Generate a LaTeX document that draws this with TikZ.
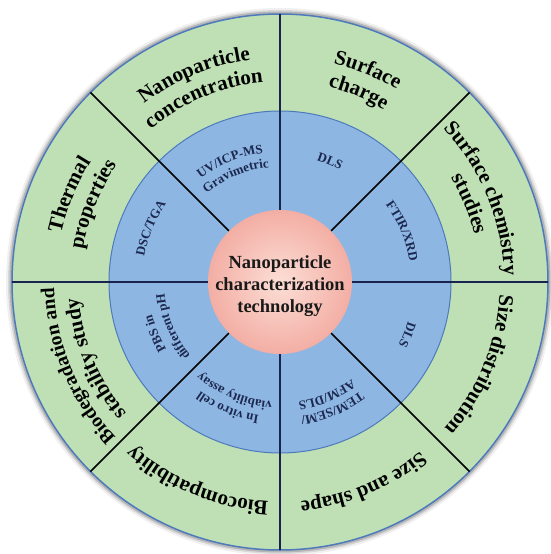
\documentclass[tikz,border=0pt]{standalone}
\usepackage{tikz}
\usetikzlibrary{decorations.text}
\usepackage{xcolor}
\usepackage{fontspec}
\setmainfont{Liberation Serif}

\definecolor{ringgreen}{RGB}{190,224,180}
\definecolor{ringblue}{RGB}{141,182,226}
\definecolor{rimblue}{RGB}{78,122,188}
\definecolor{navyline}{RGB}{25,35,80}
\definecolor{navytext}{RGB}{28,40,80}
\definecolor{pinkin}{RGB}{252,222,214}
\definecolor{pinkout}{RGB}{243,174,164}

\begin{document}
\begin{tikzpicture}[x=1pt, y=1pt,
        greenlabel/.style={decorate, decoration={text along path, text align=center,
            text={|\fontsize{21}{24}\selectfont\bfseries|#1}}},
        smallgreen/.style={decorate, decoration={text along path, text align=center,
            text={|\fontsize{19.5}{22}\selectfont\bfseries|#1}}},
        bluelabel/.style={decorate, decoration={text along path, text align=center,
            text={|\fontsize{13}{15}\selectfont\bfseries\color{navytext}|#1}}}]
                \useasboundingbox (-280,-272) rectangle (270,282);

                % shadow and rings
                \foreach \r/\o in {274/0.06, 272/0.1, 270.5/0.16} \fill[black, opacity=\o] (0,0) circle (\r);
                \filldraw[fill=ringgreen, draw=rimblue, line width=1.5pt] (0,0) circle (268);
                \filldraw[fill=ringblue, draw=rimblue, line width=1pt] (0,0) circle (171);

                % spokes
                \foreach \a in {0,90,180,270} \draw[navyline, line width=1.5pt] (\a:72) -- (\a:268);
                \foreach \a in {45,135,225,315} \draw[black, line width=1.5pt] (\a:72) -- (\a:268);

                % hub
                \shade[inner color=pinkin, outer color=pinkout] (0,0) circle (72);
                \node[align=center, text=black!90, font=\fontsize{18.5}{22}\selectfont\bfseries] (hub) at (0,-4) {Nanoparticle\\characterization\\technology};

                % outer ring
                \path[greenlabel={Nanoparticle}] (152.5:224) arc[start angle=152.5, end angle=72.5, radius=224];
                \path[greenlabel={concentration}] (152.5:200) arc[start angle=152.5, end angle=72.5, radius=200];
                \path[greenlabel={Surface}] (107.5:225) arc[start angle=107.5, end angle=27.5, radius=225];
                \path[greenlabel={charge}] (107.5:201) arc[start angle=107.5, end angle=27.5, radius=201];
                \path[greenlabel={Surface chemistry}] (62.5:224) arc[start angle=62.5, end angle=-17.5, radius=224];
                \path[greenlabel={studies}] (62.5:200) arc[start angle=62.5, end angle=-17.5, radius=200];
                \path[greenlabel={Size distribution}] (17.5:220) arc[start angle=17.5, end angle=-62.5, radius=220];
                \path[greenlabel={Size and shape}] (-27.5:220) arc[start angle=-27.5, end angle=-107.5, radius=220];
                \path[greenlabel={Biocompatibility}] (-72.5:220) arc[start angle=-72.5, end angle=-152.5, radius=220];
                \path[smallgreen={Biodegradation and}] (-117.5:226) arc[start angle=-117.5, end angle=-197.5, radius=226];
                \path[greenlabel={stability study}] (-117.5:202) arc[start angle=-117.5, end angle=-197.5, radius=202];
                \path[greenlabel={Thermal}] (197.5:224) arc[start angle=197.5, end angle=117.5, radius=224];
                \path[greenlabel={properties}] (197.5:200) arc[start angle=197.5, end angle=117.5, radius=200];

                % inner ring
                \path[bluelabel={UV/ICP-MS}] (152.5:130) arc[start angle=152.5, end angle=72.5, radius=130];
                \path[bluelabel={Gravimetric}] (152.5:115) arc[start angle=152.5, end angle=72.5, radius=115];
                \path[bluelabel={DLS}] (107.5:127) arc[start angle=107.5, end angle=27.5, radius=127];
                \path[bluelabel={FTIR/XRD}] (62.5:131) arc[start angle=62.5, end angle=-17.5, radius=131];
                \path[bluelabel={DLS}] (17.5:134) arc[start angle=17.5, end angle=-62.5, radius=134];
                \path[bluelabel={TEM/SEM/}] (-27.5:136) arc[start angle=-27.5, end angle=-107.5, radius=136];
                \path[bluelabel={AFM/DLS}] (-27.5:121) arc[start angle=-27.5, end angle=-107.5, radius=121];
                \path[bluelabel={In vitro cell}] (-72.5:135) arc[start angle=-72.5, end angle=-152.5, radius=135];
                \path[bluelabel={viability assay}] (-72.5:120) arc[start angle=-72.5, end angle=-152.5, radius=120];
                \path[bluelabel={PBS in}] (-117.5:132) arc[start angle=-117.5, end angle=-197.5, radius=132];
                \path[bluelabel={different pH}] (-117.5:116) arc[start angle=-117.5, end angle=-197.5, radius=116];
                \path[bluelabel={DSC/TGA}] (197.5:138) arc[start angle=197.5, end angle=117.5, radius=138];

            \end{tikzpicture}
\end{document}
